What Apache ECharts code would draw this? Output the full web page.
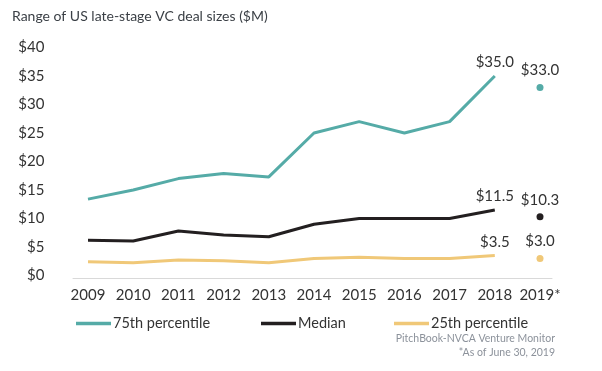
<!DOCTYPE html>
<html>
<head>
<meta charset="utf-8">
<script src="https://cdn.jsdelivr.net/npm/echarts@6/dist/echarts.min.js"></script>
<style>html,body{margin:0;padding:0;background:#fff}#c{width:602px;height:371px}</style>
</head>
<body>
<div id="c"></div>
<script>
const years = ['2009','2010','2011','2012','2013','2014','2015','2016','2017','2018','2019*'];
const p75 = [13.4, 15.0, 17.0, 17.9, 17.3, 25.0, 27.0, 25.0, 27.0, 35.0, 33.0];
const median = [6.2, 6.05, 7.8, 7.1, 6.8, 9.0, 10.0, 10.0, 10.0, 11.5, 10.3];
const p25 = [2.4, 2.25, 2.7, 2.6, 2.25, 3.0, 3.2, 3.0, 3.0, 3.5, 3.0];
const yTicks = ['$0','$5','$10','$15','$20','$25','$30','$35','$40'];
const names = ['75th percentile','Median','25th percentile'];
const colors = ['#55ABA7','#231F20','#F0C878'];

const FONT = 'Lato';
const txt = '#333333';
const seriesData = [p75, median, p25];
const lastIdx = years.length - 1;

function lineData(arr){
  return arr.map((v,i)=> i < lastIdx ? v : null);
}
function endData(arr){
  return arr.map((v,i)=> (i === lastIdx || i === lastIdx-1) ? {value: v, symbolSize: i === lastIdx ? 7 : 0} : null);
}
const labelCfg = {
  show: true, position: 'top', distance: 6, color: txt, fontFamily: FONT, fontSize: 15,
  fontWeight: 'normal', textBorderWidth: 0, textShadowBlur: 0, opacity: 1,
  formatter: p => '$' + p.value.toFixed(1)
};

const series = [];
seriesData.forEach((arr, k) => {
  series.push({
    name: names[k], type: 'line', data: lineData(arr), symbol: 'none',
    lineStyle: {color: colors[k], width: 3}, itemStyle: {color: colors[k]},
    connectNulls: false, z: 3
  });
  series.push({
    name: names[k] + ' end', type: 'scatter', data: endData(arr),
    itemStyle: {color: colors[k], opacity: 1},
    label: labelCfg, z: 4
  });
});

const legendLefts = [71, 256, 389];
const legends = names.map((n, k) => ({
  data: [{name: n, icon: 'rect'}], left: legendLefts[k], top: 311,
  itemWidth: 35, itemHeight: 3.5, itemGap: 0,
  textStyle: {fontFamily: FONT, fontSize: 14.5, color: txt, padding: [0,0,0,-3]},
  selectedMode: false
}));

const chart = echarts.init(document.getElementById('c'), null, {renderer: 'canvas'});
chart.setOption({
  animation: false,
  backgroundColor: '#ffffff',
  title: [
    {text: 'Range of US late-stage VC deal sizes ($M)', left: 7, top: 4,
     textStyle: {fontFamily: FONT, fontSize: 14, fontWeight: 'normal', color: '#3a3f45'}},
    {text: 'PitchBook-NVCA Venture Monitor', right: 42, top: 328,
     textStyle: {fontFamily: FONT, fontSize: 10.5, fontWeight: 'normal', color: '#8c929b'}},
    {text: '*As of June 30, 2019', right: 42, top: 342,
     textStyle: {fontFamily: FONT, fontSize: 10.5, fontWeight: 'normal', color: '#8c929b'}}
  ],
  legend: legends,
  grid: [
    {left: 65.4, right: 39.4, top: 47.5, bottom: 95.5},
    {left: 73, right: 50, top: 47.5, bottom: 93}
  ],
  xAxis: [
    {type: 'category', data: years, gridIndex: 0, boundaryGap: true,
     axisLine: {show: false}, axisTick: {show: false},
     axisLabel: {color: txt, fontFamily: FONT, fontSize: 15, margin: 12, interval: 0}},
    {type: 'category', data: years, gridIndex: 1, boundaryGap: false,
     axisLine: {show: true, lineStyle: {color: '#d9d9d9', width: 1}},
     axisTick: {show: false}, axisLabel: {show: false}}
  ],
  yAxis: [
    {type: 'value', gridIndex: 0, min: 0, max: 40, interval: 5,
     axisLine: {show: false}, axisTick: {show: false}, splitLine: {show: false},
     axisLabel: {color: txt, fontFamily: FONT, fontSize: 15, margin: 21,
       formatter: v => yTicks[Math.round(v/5)]}},
    {type: 'value', gridIndex: 1, show: false, min: 0, max: 40}
  ],
  series: series
});
</script>
</body>
</html>
